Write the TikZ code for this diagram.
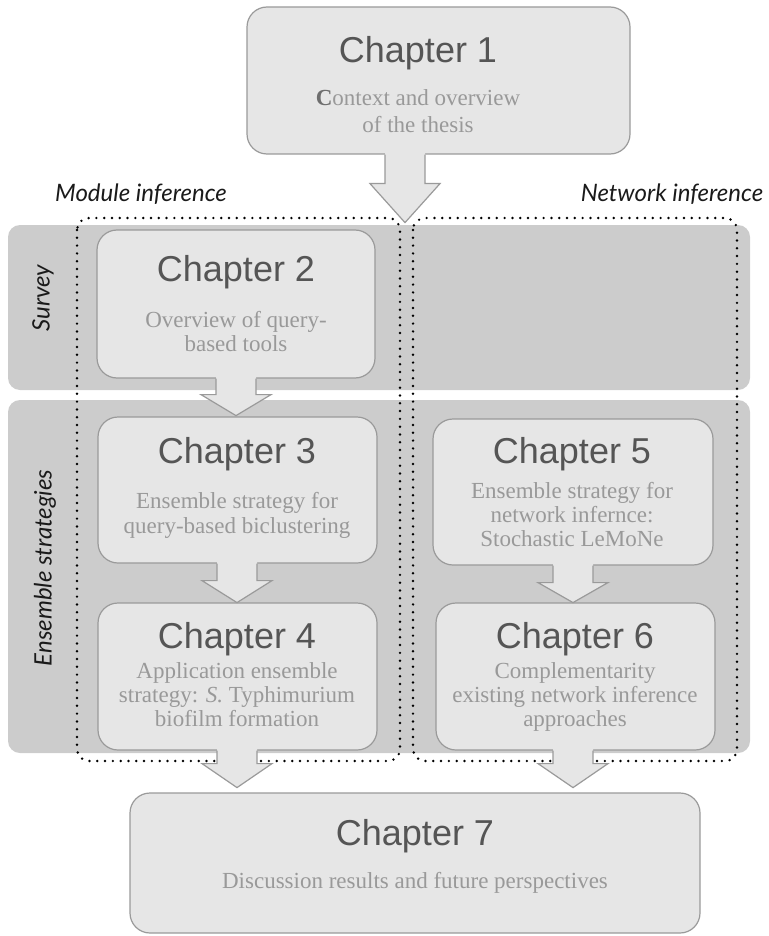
\documentclass[tikz,border=0pt]{standalone}
\usepackage{fontspec}
\setmainfont{Liberation Serif}
\setsansfont{Liberation Sans}
\newfontfamily\labelfont{Lato}
\usetikzlibrary{calc}
\definecolor{bandgray}{HTML}{CCCCCC}
\definecolor{boxgray}{HTML}{E6E6E6}
\definecolor{edgegray}{HTML}{9A9A9A}
\definecolor{titlegray}{HTML}{555555}
\definecolor{subgray}{HTML}{999999}
\definecolor{capgray}{HTML}{6E6E6E}
\definecolor{labelink}{HTML}{1A1A1A}
\newcommand\blockarrow[4]{%
  \coordinate (ba) at ($(#1)+(#4,0)$);
  \fill[arrfill] ($(ba)+(-20,-3)$) -- ($(ba)+(-20,#2)$) -- ($(ba)+(-35,#2)$) -- ($(ba)+(0,#2+#3)$) -- ($(ba)+(35,#2)$) -- ($(ba)+(20,#2)$) -- ($(ba)+(20,-3)$) -- cycle;
  \draw[arrline] ($(ba)+(-20,0)$) -- ($(ba)+(-20,#2)$) -- ($(ba)+(-35,#2)$) -- ($(ba)+(0,#2+#3)$) -- ($(ba)+(35,#2)$) -- ($(ba)+(20,#2)$) -- ($(ba)+(20,0)$);}
\begin{document}
\begin{tikzpicture}[x=1pt,y=-1pt,
  band/.style={fill=bandgray, rounded corners=12pt},
  chapbox/.style={draw=edgegray, fill=boxgray, line width=1.2pt, rounded corners=20pt, inner sep=0pt},
  dotbox/.style={draw=black, line width=2.7pt, dash pattern=on 0pt off 7.8pt, line cap=round, rounded corners=12pt},
  title/.style={font=\sffamily\fontsize{36}{40}\selectfont, text=titlegray, inner sep=0pt, anchor=base},
  sub/.style={font=\fontsize{23}{25}\selectfont, text=subgray, inner sep=0pt, anchor=base},
  lab/.style={font=\labelfont\itshape\fontsize{24}{28}\selectfont, text=labelink, inner sep=0pt},
  arrfill/.style={fill=boxgray},
  arrline/.style={draw=edgegray, line width=1.2pt, line join=miter}]
\useasboundingbox (0,0) rectangle (768,936);
% bands
\fill[band] (8,225) rectangle (750,390);
\fill[band] (8,400) rectangle (750,753);
% dotted groups
\draw[dotbox] (77,218) rectangle (400,761);
\draw[dotbox] (413,218) rectangle (737,761);
% boxes
\node[chapbox, minimum width=383pt, minimum height=147pt] (c1) at (438.5,80.5) {};
\node[chapbox, minimum width=278pt, minimum height=148pt] (c2) at (236,304) {};
\node[chapbox, minimum width=279pt, minimum height=146pt] (c3) at (237.5,490) {};
\node[chapbox, minimum width=279pt, minimum height=147pt] (c4) at (237.5,676.5) {};
\node[chapbox, minimum width=280pt, minimum height=146pt] (c5) at (573,492) {};
\node[chapbox, minimum width=279pt, minimum height=147pt] (c6) at (575.5,676.5) {};
\node[chapbox, minimum width=570pt, minimum height=140pt] (c7) at (415,863) {};
% arrows
\blockarrow{c1.south}{29}{39}{-33.5}
\blockarrow{c2.south}{16}{21}{0}
\blockarrow{c3.south}{17}{22}{-0.5}
\blockarrow{c5.south}{17}{20}{0}
\blockarrow{c4.south}{13}{24}{-0.5}
\blockarrow{c6.south}{13}{24}{-2.5}
% titles
\node[title] (t1) at (418,63) {Chapter 1};
\node[title] (t2) at (236,281) {Chapter 2};
\node[title] (t3) at (237,463) {Chapter 3};
\node[title] (t4) at (237,648) {Chapter 4};
\node[title] (t5) at (572,463) {Chapter 5};
\node[title] (t6) at (575,648) {Chapter 6};
\node[title] (t7) at (415,845) {Chapter 7};
% subtitles
\node[sub] (s1a) at (418,106) {{\color{capgray}\textbf{C}}ontext and overview};
\node[sub] (s1b) at (418,133) {of the thesis};
\node[sub] (s2a) at (236,327) {Overview of query-};
\node[sub] (s2b) at (236,351) {based tools};
\node[sub] (s3a) at (237,508) {Ensemble strategy for};
\node[sub] (s3b) at (237,533) {query-based biclustering};
\node[sub] (s4a) at (237,678) {Application ensemble};
\node[sub] (s4b) at (237,702) {strategy: \textit{S.} Typhimurium};
\node[sub] (s4c) at (237,726) {biofilm formation};
\node[sub] (s5a) at (572,498) {Ensemble strategy for};
\node[sub] (s5b) at (572,522) {network infernce:};
\node[sub] (s5c) at (572,546) {Stochastic LeMoNe};
\node[sub] (s6a) at (575,678) {Complementarity};
\node[sub] (s6b) at (575,702) {existing network inference};
\node[sub] (s6c) at (575,726) {approaches};
\node[sub] (s7a) at (415,888) {Discussion results and future perspectives};
% labels
\node[lab, anchor=base] (modlab) at (141,201) {Module inference};
\node[lab, anchor=base] (netlab) at (672,201) {Network inference};
\node[lab, rotate=90] (survlab) at (43,298) {Survey};
\node[lab, rotate=90] (enslab) at (45,568) {Ensemble strategies};
\end{tikzpicture}
\end{document}
